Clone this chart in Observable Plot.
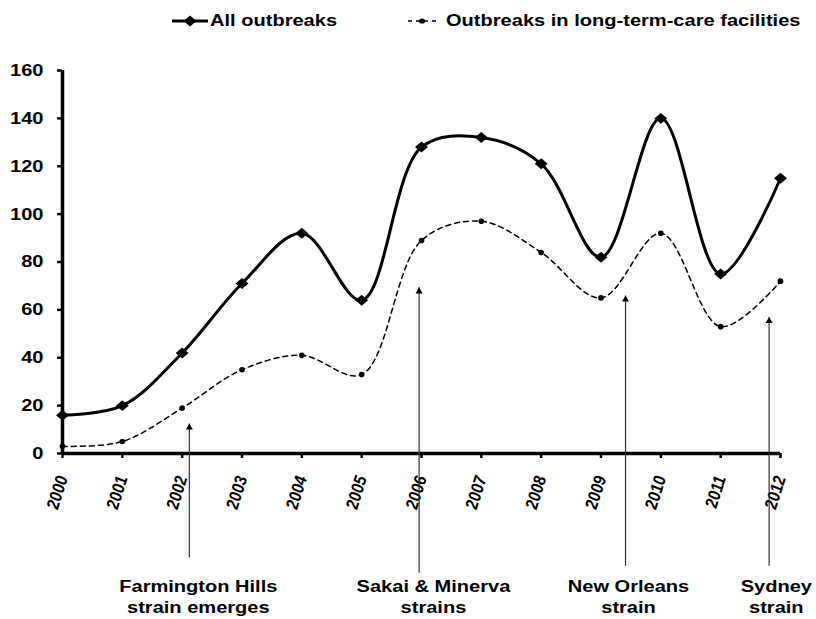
<!DOCTYPE html>
<html>
<head>
<meta charset="utf-8">
<script src="https://cdn.jsdelivr.net/npm/d3@7"></script>
<script src="https://cdn.jsdelivr.net/npm/@observablehq/plot@0.6"></script>
<style>
  body { margin: 0; background: #fff; font-family: "Liberation Sans", Arial, sans-serif; }
  #legend { position: relative; height: 40px; width: 816px; font-weight: bold; font-size: 17px; color: #000; }
  #legend svg.sym { position: absolute; top: 13px; }
  #legend span { position: absolute; top: 11px; white-space: nowrap; transform: scaleX(1.18); transform-origin: left center; line-height: 20px; }
</style>
</head>
<body>
<div id="legend">
  <svg class="sym" style="left:172px" width="36" height="16"><line x1="0" y1="8" x2="36" y2="8" stroke="#000" stroke-width="3"/><path d="M18,2.5 L24.5,8 L18,13.5 L11.5,8 Z" fill="#000"/></svg>
  <span style="left:210px">All outbreaks</span>
  <svg class="sym" style="left:407px" width="30" height="16"><line x1="1" y1="8" x2="29" y2="8" stroke="#000" stroke-width="1.5" stroke-dasharray="4,4"/><ellipse cx="15" cy="8" rx="3" ry="2.6" fill="#000"/></svg>
  <span style="left:446px">Outbreaks in long-term-care facilities</span>
</div>
<div id="chart"></div>
<script>
const years = [2000, 2001, 2002, 2003, 2004, 2005, 2006, 2007, 2008, 2009, 2010, 2011, 2012];
const allOutbreaks = [16, 20, 42, 71, 92, 64, 128, 132, 121, 82, 140, 75, 115];
const ltcfOutbreaks = [3, 5, 19, 35, 41, 33, 89, 97, 84, 65, 92, 53, 72];
const yTicks = [0, 20, 40, 60, 80, 100, 120, 140, 160];

const strainLabels = ["Farmington Hills\nstrain emerges", "Sakai & Minerva\nstrains", "New Orleans\nstrain", "Sydney\nstrain"];
const strainArrowYear = [2002.12, 2005.96, 2009.41, 2011.81];
const strainArrowTip = [12.5, 69.4, 66, 57];
const strainArrowBase = [-43.3, -49.8, -46.9, -46.9];
const strainLabelYear = [2002.27, 2006.2, 2009.46, 2011.93];
const strainLabelTop = [-51.6, -51.6, -51.6, -51.6];

const allData = years.map((y, i) => ({year: y, value: allOutbreaks[i]}));
const ltcfData = years.map((y, i) => ({year: y, value: ltcfOutbreaks[i]}));
const strains = strainLabels.map((t, i) => ({
  label: t, ax: strainArrowYear[i], tip: strainArrowTip[i], base: strainArrowBase[i],
  lx: strainLabelYear[i], ly: strainLabelTop[i]
}));

// diamond slightly wider than tall, as in the reference
const wideDiamond = {
  draw(context, size) {
    const w = Math.sqrt(size) * 0.73, h = w / 1.18;
    context.moveTo(0, -h); context.lineTo(w, 0); context.lineTo(0, h); context.lineTo(-w, 0); context.closePath();
  }
};

const chart = Plot.plot({
  width: 816,
  height: 579,
  marginTop: 30,
  marginBottom: 166,
  marginLeft: 62,
  marginRight: 36,
  style: {fontFamily: "'Liberation Sans', Arial, sans-serif", color: "#000", background: "#fff"},
  x: {domain: [2000, 2012]},
  y: {domain: [0, 160]},
  marks: [
    Plot.axisY({ticks: yTicks, tickSize: 5, tickPadding: 14, strokeWidth: 2.5, fontSize: 17, fontWeight: "bold", label: null}),
    Plot.axisX({ticks: years, tickFormat: d => String(d), tickSize: 5, tickPadding: 18, tickRotate: -75, strokeWidth: 2.5, fontSize: 15, fontWeight: "bold", fontStyle: "italic", label: null}),
    Plot.ruleX([2000], {y1: 0, y2: 160, strokeWidth: 3.5}),
    Plot.ruleY([0], {x1: 2000, x2: 2012, strokeWidth: 3.5}),
    Plot.line(ltcfData, {x: "year", y: "value", curve: "catmull-rom", stroke: "#000", strokeWidth: 1.5, strokeDasharray: "5,4"}),
    Plot.dot(ltcfData, {x: "year", y: "value", r: 2.8, fill: "#000", stroke: null}),
    Plot.line(allData, {x: "year", y: "value", curve: "catmull-rom", stroke: "#000", strokeWidth: 3}),
    Plot.dot(allData, {x: "year", y: "value", symbol: wideDiamond, r: 5, fill: "#000", stroke: null}),
    Plot.link(strains, {x1: "ax", x2: "ax", y1: "base", y2: "tip", stroke: "#333", strokeWidth: 1.2}),
    Plot.dot(strains, {x: "ax", y: "tip", symbol: "triangle", r: 2.6, fill: "#000", stroke: null, dy: 4}),
    Plot.text(strains, {x: "lx", y: "ly", text: "label", lineAnchor: "top", lineHeight: 1.25, fontSize: 17, fontWeight: "bold", fill: "#000"})
  ]
});

// widen glyphs horizontally like the reference's stretched lettering
chart.querySelectorAll("text").forEach(t => {
  const tr = t.getAttribute("transform");
  if (tr && /^translate\(/.test(tr)) {
    t.setAttribute("transform", tr.replace(/^(translate\([^)]*\))/, "$1 scale(1.18,1)"));
  } else if (!tr) {
    const x = t.getAttribute("x") || 0, y = t.getAttribute("y") || 0;
    t.removeAttribute("x"); t.removeAttribute("y");
    t.setAttribute("transform", `translate(${x},${y}) scale(1.18,1)`);
  }
});

document.getElementById("chart").appendChild(chart);
</script>
</body>
</html>
